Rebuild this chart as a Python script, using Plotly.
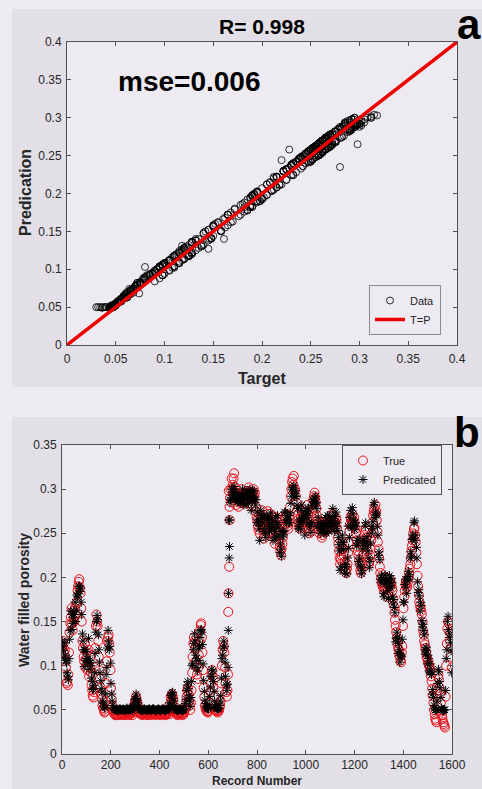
import numpy as np
import plotly.graph_objects as go

# ---------------------------------------------------------------- data
# Water filled porosity, sampled on two interleaved record grids:
#   grid A -> records 1, 6, 11, ... 1596
#   grid B -> records 4, 9, 14, ... 1599
grid_a_start, grid_b_start, grid_step = 1, 4, 5

true_a = [
    0.120, 0.125, 0.118, 0.098, 0.082, 0.090, 0.138, 0.155, 0.148, 0.162,
    0.150, 0.158, 0.172, 0.190, 0.198, 0.182, 0.150, 0.120, 0.105, 0.098,
    0.115, 0.100, 0.088, 0.110, 0.078, 0.066, 0.070, 0.120, 0.158, 0.145,
    0.110, 0.085, 0.068, 0.055, 0.050, 0.048, 0.080, 0.128, 0.135, 0.115,
    0.075, 0.055, 0.048, 0.045, 0.044, 0.046, 0.045, 0.047, 0.046, 0.045,
    0.047, 0.046, 0.047, 0.048, 0.047, 0.046, 0.047, 0.048, 0.050, 0.055,
    0.060, 0.062, 0.055, 0.048, 0.047, 0.046, 0.047, 0.048, 0.047, 0.046,
    0.047, 0.048, 0.047, 0.046, 0.047, 0.048, 0.047, 0.046, 0.047, 0.048,
    0.047, 0.046, 0.047, 0.048, 0.047, 0.046, 0.047, 0.048, 0.056, 0.065,
    0.068, 0.062, 0.050, 0.047, 0.046, 0.047, 0.048, 0.047, 0.046, 0.047,
    0.047, 0.052, 0.065, 0.075, 0.060, 0.050, 0.072, 0.110, 0.132, 0.120,
    0.100, 0.085, 0.112, 0.140, 0.148, 0.115, 0.075, 0.055, 0.050, 0.048,
    0.049, 0.058, 0.080, 0.095, 0.075, 0.055, 0.050, 0.049, 0.050, 0.052,
    0.060, 0.100, 0.128, 0.115, 0.080, 0.065, 0.090, 0.212, 0.300, 0.312,
    0.305, 0.318, 0.302, 0.288, 0.295, 0.285, 0.290, 0.300, 0.295, 0.290,
    0.285, 0.290, 0.298, 0.302, 0.295, 0.284, 0.292, 0.300, 0.296, 0.280,
    0.265, 0.254, 0.250, 0.270, 0.276, 0.262, 0.247, 0.252, 0.263, 0.272,
    0.260, 0.266, 0.258, 0.250, 0.245, 0.260, 0.268, 0.255, 0.240, 0.230,
    0.232, 0.245, 0.260, 0.266, 0.270, 0.258, 0.262, 0.280, 0.300, 0.312,
    0.315, 0.300, 0.285, 0.270, 0.262, 0.255, 0.268, 0.275, 0.262, 0.255,
    0.268, 0.282, 0.265, 0.250, 0.258, 0.275, 0.288, 0.296, 0.285, 0.270,
    0.260, 0.250, 0.262, 0.245, 0.255, 0.258, 0.260, 0.254, 0.265, 0.262,
    0.258, 0.265, 0.270, 0.268, 0.262, 0.265, 0.245, 0.230, 0.215, 0.225,
    0.240, 0.225, 0.212, 0.205, 0.215, 0.240, 0.260, 0.266, 0.272, 0.258,
    0.262, 0.250, 0.235, 0.225, 0.215, 0.205, 0.215, 0.235, 0.248, 0.255,
    0.238, 0.222, 0.218, 0.232, 0.250, 0.270, 0.278, 0.282, 0.265, 0.240,
    0.222, 0.205, 0.195, 0.190, 0.185, 0.195, 0.200, 0.178, 0.190, 0.198,
    0.192, 0.185, 0.168, 0.152, 0.138, 0.125, 0.118, 0.110, 0.104, 0.122,
    0.165, 0.185, 0.196, 0.190, 0.200, 0.210, 0.222, 0.236, 0.250, 0.256,
    0.240, 0.215, 0.190, 0.172, 0.165, 0.158, 0.140, 0.128, 0.120, 0.110,
    0.105, 0.100, 0.095, 0.082, 0.066, 0.050, 0.040, 0.036, 0.072, 0.085,
    0.068, 0.048, 0.040, 0.034, 0.030, 0.100, 0.142, 0.148, 0.128, 0.110,
]
pred_a = [
    0.128, 0.117, 0.126, 0.106, 0.092, 0.084, 0.130, 0.162, 0.141, 0.155,
    0.158, 0.150, 0.180, 0.182, 0.190, 0.188, 0.158, 0.128, 0.099, 0.106,
    0.108, 0.108, 0.096, 0.104, 0.086, 0.073, 0.078, 0.114, 0.150, 0.152,
    0.118, 0.092, 0.074, 0.060, 0.054, 0.052, 0.090, 0.120, 0.128, 0.122,
    0.080, 0.060, 0.052, 0.050, 0.050, 0.051, 0.050, 0.051, 0.050, 0.050,
    0.051, 0.050, 0.050, 0.052, 0.051, 0.050, 0.051, 0.052, 0.053, 0.057,
    0.062, 0.063, 0.058, 0.052, 0.051, 0.050, 0.050, 0.051, 0.050, 0.050,
    0.050, 0.051, 0.050, 0.050, 0.051, 0.051, 0.050, 0.049, 0.050, 0.051,
    0.050, 0.050, 0.051, 0.051, 0.050, 0.050, 0.051, 0.052, 0.058, 0.067,
    0.069, 0.063, 0.054, 0.051, 0.050, 0.050, 0.051, 0.051, 0.050, 0.050,
    0.051, 0.057, 0.072, 0.082, 0.066, 0.054, 0.082, 0.102, 0.125, 0.128,
    0.108, 0.094, 0.120, 0.132, 0.141, 0.124, 0.083, 0.061, 0.054, 0.052,
    0.052, 0.065, 0.088, 0.088, 0.082, 0.060, 0.053, 0.052, 0.052, 0.055,
    0.066, 0.108, 0.120, 0.122, 0.088, 0.072, 0.098, 0.222, 0.288, 0.300,
    0.294, 0.303, 0.290, 0.296, 0.288, 0.293, 0.284, 0.292, 0.300, 0.282,
    0.294, 0.283, 0.291, 0.295, 0.300, 0.276, 0.298, 0.292, 0.288, 0.288,
    0.274, 0.262, 0.242, 0.276, 0.268, 0.270, 0.255, 0.245, 0.270, 0.265,
    0.252, 0.273, 0.266, 0.242, 0.252, 0.268, 0.260, 0.262, 0.248, 0.238,
    0.224, 0.253, 0.252, 0.274, 0.262, 0.266, 0.270, 0.273, 0.292, 0.302,
    0.304, 0.292, 0.292, 0.278, 0.255, 0.263, 0.276, 0.268, 0.270, 0.248,
    0.276, 0.275, 0.273, 0.258, 0.251, 0.282, 0.281, 0.290, 0.292, 0.278,
    0.268, 0.257, 0.255, 0.253, 0.262, 0.250, 0.268, 0.261, 0.258, 0.270,
    0.265, 0.258, 0.278, 0.261, 0.269, 0.258, 0.253, 0.237, 0.208, 0.232,
    0.248, 0.232, 0.205, 0.212, 0.222, 0.233, 0.268, 0.259, 0.279, 0.265,
    0.254, 0.258, 0.242, 0.218, 0.222, 0.212, 0.208, 0.242, 0.241, 0.262,
    0.246, 0.230, 0.211, 0.239, 0.258, 0.263, 0.285, 0.274, 0.272, 0.248,
    0.229, 0.198, 0.202, 0.197, 0.178, 0.203, 0.193, 0.185, 0.198, 0.190,
    0.199, 0.178, 0.175, 0.160, 0.131, 0.132, 0.125, 0.104, 0.111, 0.130,
    0.172, 0.192, 0.189, 0.197, 0.207, 0.203, 0.229, 0.243, 0.244, 0.264,
    0.248, 0.222, 0.183, 0.179, 0.172, 0.151, 0.147, 0.135, 0.113, 0.117,
    0.112, 0.094, 0.102, 0.090, 0.073, 0.055, 0.050, 0.050, 0.080, 0.093,
    0.075, 0.052, 0.050, 0.050, 0.050, 0.108, 0.150, 0.141, 0.136, 0.117,
]

true_b = [
    0.128, 0.115, 0.105, 0.080, 0.078, 0.115, 0.148, 0.165, 0.140, 0.155,
    0.165, 0.170, 0.185, 0.195, 0.188, 0.165, 0.128, 0.110, 0.125, 0.108,
    0.095, 0.118, 0.098, 0.092, 0.072, 0.064, 0.098, 0.145, 0.150, 0.128,
    0.095, 0.075, 0.062, 0.052, 0.047, 0.060, 0.105, 0.132, 0.125, 0.095,
    0.062, 0.050, 0.046, 0.044, 0.045, 0.044, 0.046, 0.045, 0.044, 0.046,
    0.045, 0.044, 0.046, 0.045, 0.044, 0.045, 0.046, 0.044, 0.047, 0.058,
    0.065, 0.058, 0.050, 0.046, 0.045, 0.044, 0.045, 0.046, 0.045, 0.044,
    0.045, 0.046, 0.044, 0.045, 0.046, 0.045, 0.044, 0.045, 0.046, 0.045,
    0.044, 0.045, 0.046, 0.045, 0.044, 0.045, 0.046, 0.045, 0.050, 0.062,
    0.066, 0.055, 0.048, 0.045, 0.044, 0.045, 0.046, 0.045, 0.044, 0.045,
    0.050, 0.058, 0.072, 0.068, 0.055, 0.058, 0.092, 0.125, 0.128, 0.105,
    0.090, 0.098, 0.128, 0.146, 0.132, 0.095, 0.065, 0.052, 0.048, 0.047,
    0.052, 0.070, 0.090, 0.088, 0.065, 0.050, 0.048, 0.047, 0.049, 0.055,
    0.080, 0.118, 0.122, 0.098, 0.070, 0.072, 0.298, 0.290, 0.285, 0.300,
    0.312, 0.296, 0.282, 0.290, 0.280, 0.292, 0.296, 0.288, 0.284, 0.292,
    0.296, 0.294, 0.288, 0.296, 0.290, 0.280, 0.296, 0.292, 0.275, 0.268,
    0.258, 0.262, 0.268, 0.262, 0.255, 0.244, 0.256, 0.258, 0.275, 0.265,
    0.252, 0.262, 0.270, 0.248, 0.238, 0.252, 0.262, 0.248, 0.235, 0.225,
    0.238, 0.255, 0.268, 0.272, 0.262, 0.255, 0.270, 0.292, 0.308, 0.305,
    0.298, 0.292, 0.276, 0.265, 0.258, 0.262, 0.275, 0.268, 0.258, 0.262,
    0.275, 0.272, 0.255, 0.252, 0.268, 0.282, 0.292, 0.290, 0.278, 0.265,
    0.255, 0.258, 0.252, 0.248, 0.262, 0.252, 0.258, 0.262, 0.258, 0.255,
    0.262, 0.272, 0.264, 0.258, 0.268, 0.256, 0.238, 0.222, 0.220, 0.232,
    0.232, 0.218, 0.208, 0.210, 0.228, 0.252, 0.268, 0.262, 0.265, 0.268,
    0.255, 0.242, 0.230, 0.220, 0.208, 0.210, 0.225, 0.242, 0.252, 0.245,
    0.230, 0.215, 0.225, 0.242, 0.262, 0.275, 0.272, 0.275, 0.252, 0.232,
    0.212, 0.200, 0.192, 0.188, 0.190, 0.200, 0.188, 0.182, 0.195, 0.194,
    0.188, 0.176, 0.160, 0.145, 0.132, 0.120, 0.112, 0.106, 0.115, 0.145,
    0.178, 0.192, 0.188, 0.195, 0.205, 0.215, 0.230, 0.242, 0.255, 0.248,
    0.228, 0.202, 0.180, 0.168, 0.162, 0.150, 0.135, 0.124, 0.115, 0.108,
    0.102, 0.098, 0.088, 0.074, 0.058, 0.045, 0.038, 0.055, 0.090, 0.075,
    0.058, 0.044, 0.036, 0.032, 0.065, 0.125, 0.150, 0.138, 0.120, 0.098,
]
pred_b = [
    0.122, 0.108, 0.112, 0.103, 0.088, 0.108, 0.140, 0.158, 0.148, 0.162,
    0.172, 0.163, 0.178, 0.190, 0.184, 0.172, 0.136, 0.118, 0.118, 0.116,
    0.104, 0.131, 0.106, 0.100, 0.082, 0.074, 0.092, 0.138, 0.157, 0.135,
    0.104, 0.083, 0.070, 0.058, 0.053, 0.068, 0.098, 0.140, 0.118, 0.103,
    0.068, 0.055, 0.051, 0.050, 0.050, 0.049, 0.050, 0.051, 0.050, 0.050,
    0.050, 0.049, 0.051, 0.050, 0.050, 0.050, 0.051, 0.049, 0.052, 0.062,
    0.068, 0.061, 0.054, 0.050, 0.050, 0.049, 0.050, 0.051, 0.050, 0.049,
    0.050, 0.051, 0.049, 0.050, 0.051, 0.050, 0.049, 0.050, 0.051, 0.050,
    0.049, 0.050, 0.051, 0.050, 0.049, 0.050, 0.051, 0.050, 0.054, 0.066,
    0.070, 0.060, 0.052, 0.050, 0.049, 0.050, 0.051, 0.050, 0.049, 0.050,
    0.054, 0.062, 0.078, 0.074, 0.060, 0.064, 0.100, 0.118, 0.136, 0.112,
    0.098, 0.106, 0.122, 0.140, 0.138, 0.102, 0.071, 0.057, 0.052, 0.051,
    0.056, 0.076, 0.096, 0.094, 0.071, 0.054, 0.052, 0.051, 0.052, 0.060,
    0.086, 0.112, 0.128, 0.104, 0.078, 0.079, 0.265, 0.285, 0.290, 0.296,
    0.300, 0.294, 0.288, 0.286, 0.286, 0.288, 0.292, 0.294, 0.290, 0.288,
    0.292, 0.298, 0.284, 0.290, 0.296, 0.286, 0.290, 0.298, 0.282, 0.262,
    0.266, 0.255, 0.262, 0.270, 0.262, 0.252, 0.250, 0.266, 0.268, 0.258,
    0.260, 0.255, 0.262, 0.256, 0.246, 0.245, 0.270, 0.256, 0.228, 0.232,
    0.246, 0.248, 0.274, 0.265, 0.270, 0.262, 0.262, 0.284, 0.300, 0.298,
    0.292, 0.298, 0.282, 0.258, 0.265, 0.255, 0.282, 0.262, 0.266, 0.270,
    0.268, 0.278, 0.262, 0.260, 0.262, 0.288, 0.286, 0.284, 0.285, 0.258,
    0.262, 0.250, 0.260, 0.256, 0.255, 0.260, 0.250, 0.270, 0.252, 0.262,
    0.255, 0.264, 0.270, 0.252, 0.274, 0.262, 0.245, 0.230, 0.212, 0.240,
    0.240, 0.212, 0.215, 0.204, 0.258, 0.245, 0.276, 0.256, 0.272, 0.262,
    0.262, 0.236, 0.238, 0.244, 0.214, 0.204, 0.232, 0.236, 0.258, 0.240,
    0.236, 0.222, 0.218, 0.250, 0.255, 0.282, 0.268, 0.270, 0.258, 0.225,
    0.220, 0.194, 0.200, 0.182, 0.196, 0.192, 0.195, 0.176, 0.202, 0.188,
    0.194, 0.170, 0.166, 0.127, 0.138, 0.114, 0.118, 0.112, 0.110, 0.152,
    0.172, 0.198, 0.182, 0.201, 0.198, 0.222, 0.224, 0.248, 0.262, 0.242,
    0.234, 0.195, 0.186, 0.162, 0.168, 0.144, 0.140, 0.118, 0.121, 0.102,
    0.108, 0.092, 0.094, 0.068, 0.064, 0.052, 0.050, 0.060, 0.096, 0.082,
    0.064, 0.050, 0.049, 0.050, 0.072, 0.118, 0.156, 0.132, 0.126, 0.092,
]

# extra records across the step change near record 685
step_records = [682, 683, 687, 688]
step_true = [0.161, 0.182, 0.280, 0.265]
step_pred = [0.140, 0.182, 0.235, 0.265]

a_ticks = [0, 0.05, 0.1, 0.15, 0.2, 0.25, 0.3, 0.35, 0.4]
a_tick_text = ["0", "0.05", "0.1", "0.15", "0.2", "0.25", "0.3", "0.35", "0.4"]
b_yticks = [0, 0.05, 0.1, 0.15, 0.2, 0.25, 0.3, 0.35]
b_ytick_text = ["0", "0.05", "0.1", "0.15", "0.2", "0.25", "0.3", "0.35"]
b_xticks = [0, 200, 400, 600, 800, 1000, 1200, 1400, 1600]
identity_line = [0, 0.4]

r_value = 0.998
mse_value = 0.006

# ---------------------------------------------------------------- assemble
rec_a = grid_a_start + grid_step * np.arange(len(true_a))
rec_b = grid_b_start + grid_step * np.arange(len(true_b))
rec_all = np.concatenate([rec_a, rec_b, step_records])
true_all = np.concatenate([true_a, true_b, step_true])
pred_all = np.concatenate([pred_a, pred_b, step_pred])
order = np.argsort(rec_all, kind="stable")
rec_all, true_all, pred_all = rec_all[order], true_all[order], pred_all[order]

W, H = 482, 789
FONT = "Liberation Sans, Arial, sans-serif"
PAGE_BG = "#EEEAF2"
PANEL_BG = "#E2DFE7"
AXIS_COL = "#505050"
TEXT_COL = "#262626"


def fx(px):
    return px / W


def fy(py):
    return 1 - py / H


fig = go.Figure()

# panel a: target vs prediction
fig.add_trace(go.Scatter(
    x=true_all, y=pred_all, mode="markers", name="Data",
    marker=dict(symbol="circle-open", size=7, color="black", line=dict(width=0.8)),
    xaxis="x", yaxis="y", legend="legend",
))
fig.add_trace(go.Scatter(
    x=identity_line, y=identity_line, mode="lines", name="T=P",
    line=dict(color="#EE0000", width=3.5),
    xaxis="x", yaxis="y", legend="legend",
))

# panel b: record series
fig.add_trace(go.Scatter(
    x=rec_all, y=true_all, mode="markers", name="True",
    marker=dict(symbol="circle-open", size=9, color="#E8141B", line=dict(width=1)),
    xaxis="x2", yaxis="y2", legend="legend2",
))
fig.add_trace(go.Scatter(
    x=rec_all, y=pred_all, mode="markers", name="Predicated",
    marker=dict(symbol="asterisk-open", size=7.5, color="black", line=dict(width=1)),
    xaxis="x2", yaxis="y2", legend="legend2",
))

axis_common = dict(
    showline=True, linecolor=AXIS_COL, linewidth=1, mirror="ticks",
    ticks="inside", ticklen=4, tickwidth=1, tickcolor=AXIS_COL,
    showgrid=False, zeroline=False, automargin=False,
    tickfont=dict(family=FONT, size=12, color=TEXT_COL),
)

fig.update_layout(
    width=W, height=H,
    margin=dict(l=0, r=0, t=0, b=0, autoexpand=False),
    paper_bgcolor=PAGE_BG,
    plot_bgcolor="rgba(0,0,0,0)",
    font=dict(family=FONT, color=TEXT_COL),
    xaxis=dict(domain=[fx(67), fx(457)], range=[0, 0.4], anchor="y",
               tickvals=a_ticks, ticktext=a_tick_text, ticklabelstandoff=3, **axis_common),
    yaxis=dict(domain=[fy(345), fy(42)], range=[0, 0.4], anchor="x",
               tickvals=a_ticks, ticktext=a_tick_text, ticklabelstandoff=2, **axis_common),
    xaxis2=dict(domain=[fx(62), fx(452)], range=[0, 1600], anchor="y2",
                tickvals=b_xticks, ticklabelstandoff=0, **axis_common),
    yaxis2=dict(domain=[fy(754), fy(445)], range=[0, 0.35], anchor="x2",
                tickvals=b_yticks, ticktext=b_ytick_text, ticklabelstandoff=2, **axis_common),
    legend=dict(
        x=fx(441), y=fy(310), xanchor="right", yanchor="middle",
        bgcolor=PAGE_BG, bordercolor="#8a8a8a", borderwidth=1,
        font=dict(family=FONT, size=11, color=TEXT_COL),
        tracegroupgap=0,
    ),
    legend2=dict(
        x=fx(442), y=fy(470), xanchor="right", yanchor="middle",
        bgcolor=PAGE_BG, bordercolor="#555555", borderwidth=1,
        font=dict(family=FONT, size=11, color=TEXT_COL),
        tracegroupgap=0,
    ),
    showlegend=True,
)

# figure panels and axes backgrounds
shapes = [
    dict(type="rect", xref="paper", yref="paper", x0=fx(12), x1=1, y0=fy(387), y1=fy(9),
         fillcolor=PANEL_BG, line=dict(width=0), layer="below"),
    dict(type="rect", xref="paper", yref="paper", x0=fx(12), x1=1, y0=0, y1=fy(417),
         fillcolor=PANEL_BG, line=dict(width=0), layer="below"),
    dict(type="rect", xref="paper", yref="paper", x0=fx(67), x1=fx(457), y0=fy(345), y1=fy(42),
         fillcolor=PAGE_BG, line=dict(width=0), layer="below"),
    dict(type="rect", xref="paper", yref="paper", x0=fx(62), x1=fx(452), y0=fy(754), y1=fy(445),
         fillcolor=PAGE_BG, line=dict(width=0), layer="below"),
]
fig.update_layout(shapes=shapes)

annotations = [
    dict(text=f"<b>R= {r_value}</b>", x=fx(262), y=fy(26), xref="paper", yref="paper",
         showarrow=False, font=dict(size=21, color="black"), xanchor="center", yanchor="middle"),
    dict(text="<b>a</b>", x=fx(455), y=fy(24), xref="paper", yref="paper",
         showarrow=False, font=dict(size=42, color="black"), xanchor="left", yanchor="middle"),
    dict(text=f"<b>mse={mse_value}</b>", x=0.05, y=0.348, xref="x", yref="y",
         showarrow=False, font=dict(size=28, color="black"), xanchor="left", yanchor="middle"),
    dict(text="<b>Target</b>", x=fx(262), y=fy(378), xref="paper", yref="paper",
         showarrow=False, font=dict(size=16, color=TEXT_COL), xanchor="center", yanchor="middle"),
    dict(text="<b>Predication</b>", x=fx(25), y=fy(193), xref="paper", yref="paper",
         showarrow=False, textangle=-90, font=dict(size=16, color=TEXT_COL),
         xanchor="center", yanchor="middle"),
    dict(text="<b>b</b>", x=1, y=fy(432), xref="paper", yref="paper",
         showarrow=False, font=dict(size=42, color="black"), xanchor="right", yanchor="middle"),
    dict(text="<b>Water filled porosity</b>", x=fx(24), y=fy(600), xref="paper", yref="paper",
         showarrow=False, textangle=-90, font=dict(size=14, color=TEXT_COL),
         xanchor="center", yanchor="middle"),
    dict(text="<b>Record Number</b>", x=fx(257), y=0, xref="paper", yref="paper",
         showarrow=False, borderpad=0, font=dict(size=12, color=TEXT_COL),
         xanchor="center", yanchor="bottom"),
]
fig.update_layout(annotations=annotations)

fig.write_html("out.html")
